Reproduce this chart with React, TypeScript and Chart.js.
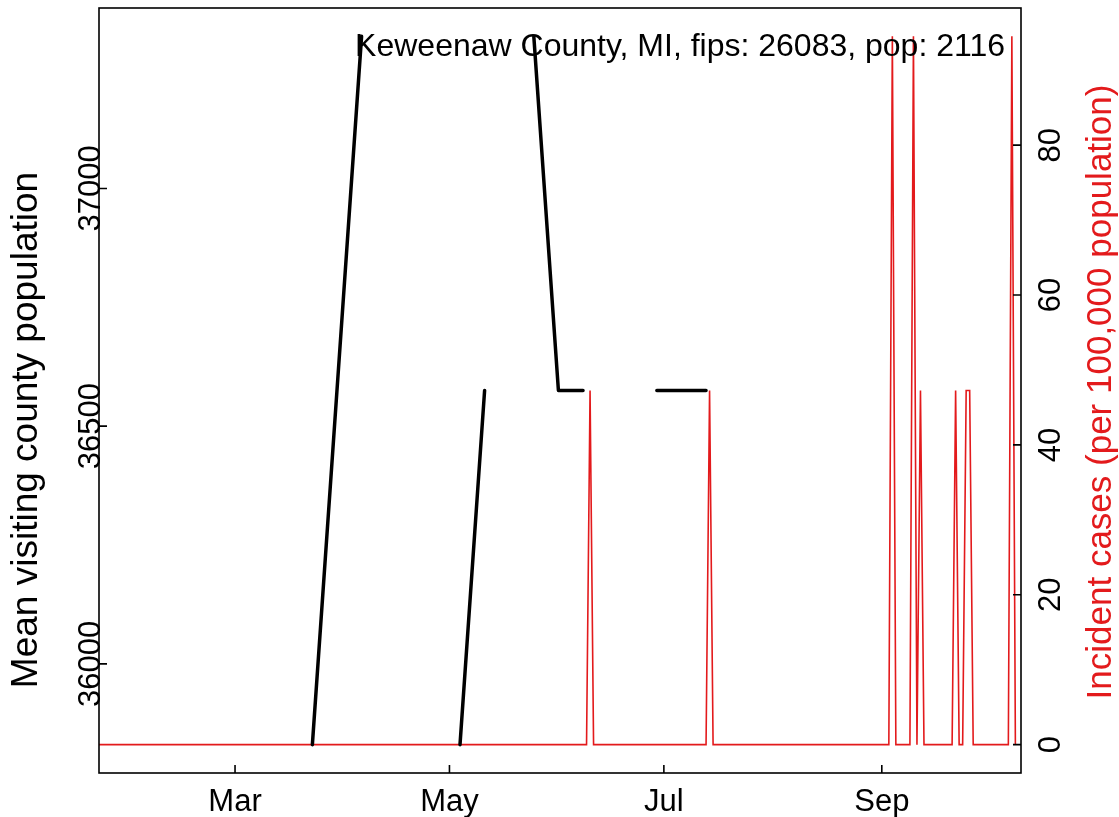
import React, { useEffect, useRef } from 'react';
import { Chart, registerables } from 'chart.js';

Chart.register(...registerables);

// Day-of-year (2020, Jan 1 = 0)
const blackDays = [82, 89, 96, 103, 110, 117, 124, 131, 138, 145, 152, 159, 166, 173, 180, 187, 194];
const blackValues: (number | null)[] = [35830, 36575, 37320, null, null, null, 35830, 36575, null, 37320, 36575, 36575, null, null, 36575, 36575, 36575];

const redDays = [21, 160, 161, 162, 194, 195, 196, 246, 247, 248, 252, 253, 254, 255, 256, 264, 265, 266, 267, 268, 269, 270, 280, 281, 282];
const redValues = [0, 0, 47.26, 0, 0, 47.26, 0, 0, 94.52, 0, 0, 94.52, 0, 47.26, 0, 0, 47.26, 0, 0, 47.26, 47.26, 0, 0, 94.52, 0];

const monthTickDays = [60, 121, 182, 244];
const monthTickLabels = ['Mar', 'May', 'Jul', 'Sep'];
const leftTickValues = [36000, 36500, 37000];
const rightTickValues = [0, 20, 40, 60, 80];

const titleText = 'Keweenaw County, MI, fips: 26083, pop: 2116';
const leftAxisTitle = 'Mean visiting county population';
const rightAxisTitle = 'Incident cases (per 100,000 population)';

const X_MIN = 21.3;
const X_MAX = 283.6;
const VIS_LO = 35830;
const VIS_HI = 37320;
const CASE_HI = 94.52;

const RED = '#E31A1C';
const FONT = "'Liberation Sans', Arial, Helvetica, sans-serif";

const decorPlugin = {
  id: 'rDecor',
  afterDraw(chart: any) {
    const ctx = chart.ctx as CanvasRenderingContext2D;
    const { left, right, top, bottom } = chart.chartArea;
    const xs = chart.scales.x;
    const ys = chart.scales.y;
    const ys2 = chart.scales.y2;
    ctx.save();
    // box
    ctx.strokeStyle = '#000';
    ctx.lineWidth = 1.6;
    ctx.strokeRect(left, top, right - left, bottom - top);
    // ticks (pointing inward)
    const tl = 8;
    ctx.beginPath();
    monthTickDays.forEach((d) => {
      const px = xs.getPixelForValue(d);
      ctx.moveTo(px, bottom);
      ctx.lineTo(px, bottom - tl);
    });
    leftTickValues.forEach((v) => {
      const py = ys.getPixelForValue(v);
      ctx.moveTo(left, py);
      ctx.lineTo(left + tl, py);
    });
    rightTickValues.forEach((v) => {
      const py = ys2.getPixelForValue(v);
      ctx.moveTo(right, py);
      ctx.lineTo(right - tl, py);
    });
    ctx.stroke();

    // x tick labels
    ctx.fillStyle = '#000';
    ctx.font = `31px ${FONT}`;
    ctx.textAlign = 'center';
    ctx.textBaseline = 'alphabetic';
    monthTickDays.forEach((d, i) => {
      ctx.fillText(monthTickLabels[i], xs.getPixelForValue(d), 811);
    });

    // left tick labels (rotated)
    leftTickValues.forEach((v) => {
      const py = ys.getPixelForValue(v);
      ctx.save();
      ctx.translate(100, py);
      ctx.rotate(-Math.PI / 2);
      ctx.fillText(String(v), 0, 0);
      ctx.restore();
    });

    // right tick labels (rotated)
    rightTickValues.forEach((v) => {
      const py = ys2.getPixelForValue(v);
      ctx.save();
      ctx.translate(1060, py);
      ctx.rotate(-Math.PI / 2);
      ctx.fillText(String(v), 0, 0);
      ctx.restore();
    });

    // left axis title
    ctx.save();
    ctx.font = `37px ${FONT}`;
    ctx.translate(37, 430);
    ctx.rotate(-Math.PI / 2);
    ctx.fillText(leftAxisTitle, 0, 0);
    ctx.restore();

    // right axis title
    ctx.save();
    ctx.font = `35px ${FONT}`;
    ctx.fillStyle = RED;
    ctx.translate(1111, 392);
    ctx.rotate(-Math.PI / 2);
    ctx.fillText(rightAxisTitle, 0, 0);
    ctx.restore();

    // title text
    ctx.font = `32px ${FONT}`;
    ctx.textAlign = 'right';
    ctx.fillStyle = '#000';
    ctx.fillText(titleText, 1005, 56);

    ctx.restore();
  },
};

export default function App() {
  const canvasRef = useRef<HTMLCanvasElement | null>(null);

  useEffect(() => {
    const canvas = canvasRef.current;
    if (!canvas) return;
    const visPad = (VIS_HI - VIS_LO) * 0.04;
    const casePad = CASE_HI * 0.04;
    const chart = new Chart(canvas, {
      type: 'line',
      data: {
        datasets: [
          {
            label: 'Mean visiting county population',
            data: blackDays.map((d, i) => ({ x: d, y: blackValues[i] })),
            yAxisID: 'y',
            borderColor: '#000',
            backgroundColor: '#000',
            borderWidth: 3.5,
            pointRadius: 0,
            spanGaps: false,
            tension: 0,
            borderCapStyle: 'round',
            borderJoinStyle: 'round',
          },
          {
            label: 'Incident cases',
            data: redDays.map((d, i) => ({ x: d, y: redValues[i] })),
            yAxisID: 'y2',
            borderColor: RED,
            backgroundColor: RED,
            borderWidth: 1.6,
            pointRadius: 0,
            tension: 0,
          },
        ],
      },
      options: {
        animation: false,
        responsive: false,
        devicePixelRatio: 1,
        layout: { padding: { left: 99, right: 98, top: 8, bottom: 44 } },
        plugins: { legend: { display: false }, tooltip: { enabled: false } },
        scales: {
          x: { type: 'linear', min: X_MIN, max: X_MAX, display: false },
          y: { type: 'linear', min: VIS_LO - visPad, max: VIS_HI + visPad, display: false },
          y2: { type: 'linear', min: -casePad, max: CASE_HI + casePad, display: false, position: 'right' },
        },
      },
      plugins: [decorPlugin],
    } as any);
    return () => chart.destroy();
  }, []);

  return (
    <div style={{ position: 'absolute', left: 0, top: 0, width: 1119, height: 817, background: '#fff' }}>
      <canvas ref={canvasRef} width={1119} height={817} style={{ display: 'block' }} />
    </div>
  );
}
